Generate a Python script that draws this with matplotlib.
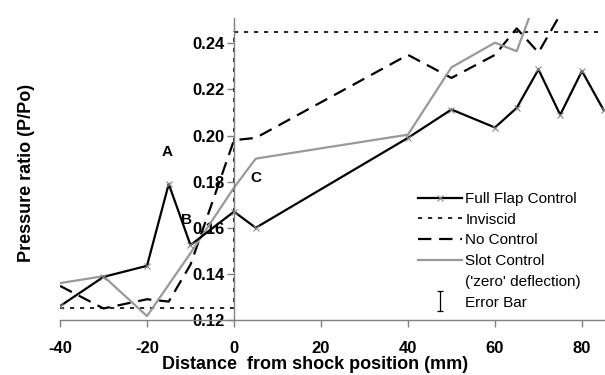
import matplotlib
matplotlib.use("Agg")
import matplotlib.pyplot as plt
from matplotlib.lines import Line2D
from matplotlib.path import Path

plt.rcParams["font.family"] = ["Liberation Sans", "DejaVu Sans"]
plt.rcParams["axes.unicode_minus"] = False

# data
flap_x = [-40, -30, -20, -15, -10, 0, 5, 40, 50, 60, 65, 70, 75, 80, 85]
flap_y = [0.126, 0.1387, 0.1435, 0.179, 0.1525, 0.167, 0.160, 0.199,
          0.2113, 0.2035, 0.212, 0.2287, 0.209, 0.228, 0.211]

inviscid_x = [-40, 0, 0, 85]
inviscid_y = [0.1252, 0.1252, 0.2448, 0.2448]

noctrl_x = [-40, -30, -20, -15, -10, 0, 5, 40, 50, 60, 65, 70, 75, 80, 85]
noctrl_y = [0.1348, 0.125, 0.129, 0.128, 0.144, 0.198, 0.199, 0.235,
            0.225, 0.235, 0.2465, 0.236, 0.2525, 0.2525, 0.2535]

slot_x = [-40, -30, -20, -10, 0, 5, 40, 50, 60, 65, 70, 75, 80, 85]
slot_y = [0.136, 0.139, 0.1217, 0.149, 0.1774, 0.190, 0.2004, 0.2296,
          0.2403, 0.2366, 0.262, 0.262, 0.2515, 0.262]

x_ticks = [-40, -20, 0, 20, 40, 60, 80]
y_ticks = [0.12, 0.14, 0.16, 0.18, 0.20, 0.22, 0.24]

notes = [("A", -15.4, 0.193), ("B", -11.0, 0.1635), ("C", 5.0, 0.1817)]

grey = "#999999"
axis_grey = "#808080"

fig = plt.figure(figsize=(6.05, 3.75), dpi=100)
ax = fig.add_axes([60 / 605, 55 / 375, 545 / 605, 302 / 375])

ax.plot(inviscid_x, inviscid_y, color="black", lw=1.2, dashes=(2.5, 3.5))
ax.plot(noctrl_x, noctrl_y, color="black", lw=1.6, dashes=(6, 3.5))
ax.plot(slot_x, slot_y, color=grey, lw=1.6)
ax.plot(flap_x, flap_y, color="black", lw=1.6, marker="x", ms=5,
        mew=0.8, mec="#888888")

ax.set_xlim(-40, 85.3)
ax.set_ylim(0.12, 0.251)

ax.spines["top"].set_visible(False)
ax.spines["right"].set_visible(False)
ax.spines["left"].set_position(("data", 0))
for s in ("left", "bottom"):
    ax.spines[s].set_color(axis_grey)
    ax.spines[s].set_linewidth(1.0)

ax.set_xticks(x_ticks)
ax.set_yticks(y_ticks)
ax.set_yticklabels([f"{v:.2f}" for v in y_ticks])
ax.tick_params(axis="both", colors=axis_grey, length=5, width=1.0,
               labelcolor="black", labelsize=12)
ax.tick_params(axis="x", pad=10)
ax.tick_params(axis="y", pad=2)
for lab in ax.get_xticklabels() + ax.get_yticklabels():
    lab.set_fontweight("bold")

for txt, xx, yy in notes:
    ax.text(xx, yy, txt, fontsize=11, fontweight="bold", ha="center", va="center")

ax.text(0.468, -0.148, "Distance  from shock position (mm)", transform=ax.transAxes,
        fontsize=13, fontweight="bold", ha="center", va="center")
ax.text(-0.062, 0.487, "Pressure ratio (P/Po)", transform=ax.transAxes,
        fontsize=13, fontweight="bold", ha="center", va="center", rotation=90)

# legend; the error bar symbol is an I-shaped marker
ibar = Path([(-0.35, 1), (0.35, 1), (0, 1), (0, -1), (-0.35, -1), (0.35, -1)],
            [Path.MOVETO, Path.LINETO, Path.MOVETO, Path.LINETO, Path.MOVETO, Path.LINETO])
handles = [
    Line2D([], [], color="black", lw=1.6, marker="x", ms=5, mew=0.8, mec="#888888"),
    Line2D([], [], color="black", lw=1.2, dashes=(2.5, 3.5)),
    Line2D([], [], color="black", lw=1.6, dashes=(6, 3.5)),
    Line2D([], [], color=grey, lw=1.6),
    Line2D([], [], color="none"),
    Line2D([], [], ls="none", marker=ibar, ms=14, mew=0.9, color="black",
           markerfacecolor="none"),
]
labels = ["Full Flap Control", "Inviscid", "No Control", "Slot Control",
          "('zero' deflection)", "Error Bar"]
fig.legend(handles, labels, loc="upper left", bbox_to_anchor=(418 / 605, 1 - 192 / 375),
           frameon=False, fontsize=11, borderpad=0, borderaxespad=0,
           handlelength=2.9, handletextpad=0.2, labelspacing=0.44)

fig.savefig("out.png", dpi=100)
